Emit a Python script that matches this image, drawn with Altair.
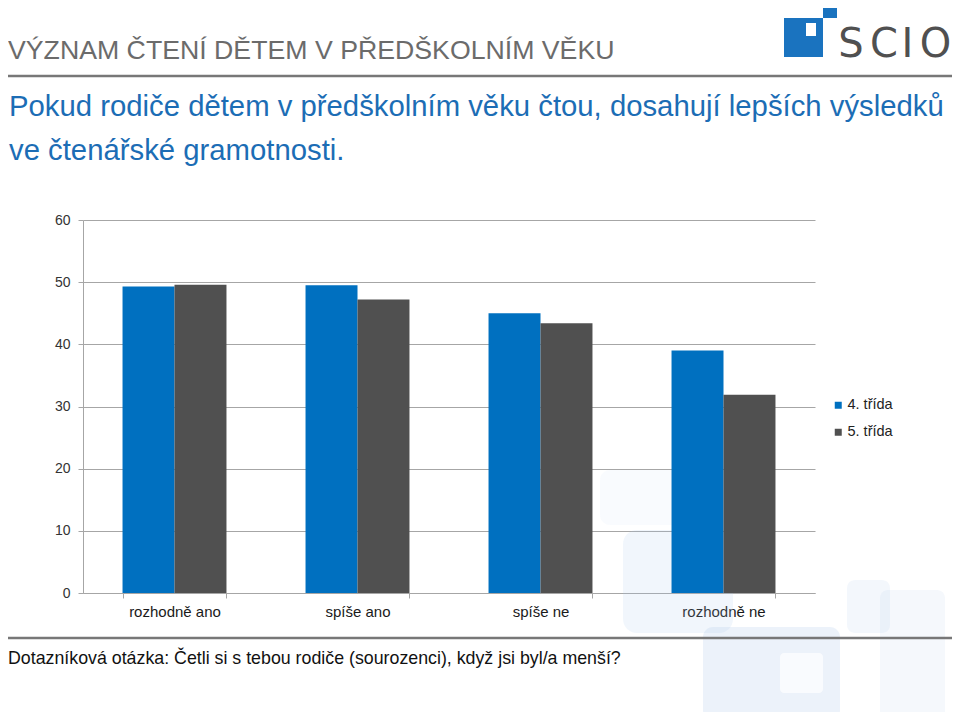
import altair as alt
import pandas as pd

categories = ["rozhodně ano", "spíše ano", "spíše ne", "rozhodně ne"]
series = ["4. třída", "5. třída"]
values_4 = [49.3, 49.5, 45.0, 39.0]
values_5 = [49.6, 47.2, 43.4, 31.9]
y_ticks = [0, 10, 20, 30, 40, 50, 60]

title_text = "VÝZNAM ČTENÍ DĚTEM V PŘEDŠKOLNÍM VĚKU"
subtitle_1 = "Pokud rodiče dětem v předškolním věku čtou, dosahují lepších výsledků"
subtitle_2 = "ve čtenářské gramotnosti."
footer_text = "Dotazníková otázka: Četli si s tebou rodiče (sourozenci), když jsi byl/a menší?"

rows = []
for i, c in enumerate(categories):
    rows.append({"kategorie": c, "třída": series[0], "hodnota": values_4[i]})
    rows.append({"kategorie": c, "třída": series[1], "hodnota": values_5[i]})
df = pd.DataFrame(rows)

BLUE = "#0070C0"
GRAY = "#505050"
LINE = "#a6a6a6"
FONT = "Liberation Sans"

# plot area is 732 x 373, origin at page (83, 220)
W, H = 732, 373
OX, OY = 83, 220


def one():
    return alt.Data(values=[{"a": 1}])


def rect(x1, y1, x2, y2, color, opacity=1.0, radius=0):
    return alt.Chart(one()).mark_rect(
        color=color, opacity=opacity, cornerRadius=radius
    ).encode(
        x=alt.value(x1 - OX), x2=alt.value(x2 - OX),
        y=alt.value(y1 - OY), y2=alt.value(y2 - OY),
    )


def text(t, x, y, size, color, align="left", weight="normal", font=FONT):
    return alt.Chart(one()).mark_text(
        text=t, align=align, baseline="alphabetic", fontSize=size,
        color=color, font=font, fontWeight=weight,
    ).encode(x=alt.value(x - OX), y=alt.value(y - OY))


def hline(x1, x2, y, color, width):
    return alt.Chart(one()).mark_rule(color=color, strokeWidth=width).encode(
        x=alt.value(x1 - OX), x2=alt.value(x2 - OX), y=alt.value(y - OY)
    )


# faint watermark shapes
wm = "#a9c6ea"
watermark = [
    rect(623, 530, 733, 633, wm, 0.16, 14),
    rect(703, 627, 840, 720, wm, 0.22, 10),
    rect(780, 653, 823, 693, "#ffffff", 0.7, 4),
    rect(847, 580, 890, 633, wm, 0.14, 8),
    rect(880, 590, 945, 720, wm, 0.12, 8),
    rect(600, 470, 720, 525, wm, 0.07, 10),
]

bars = alt.Chart(df).mark_bar().encode(
    x=alt.X(
        "kategorie:N", sort=categories, title=None,
        scale=alt.Scale(paddingInner=0.432, paddingOuter=0.216),
        axis=alt.Axis(
            labelAngle=0, labelFontSize=15, labelColor="#1a1a1a", labelFont=FONT,
            domainColor=LINE, tickColor=LINE, tickSize=5, tickBand="extent",
            labelPadding=6, grid=False,
        ),
    ),
    xOffset=alt.XOffset("třída:N", sort=series),
    y=alt.Y(
        "hodnota:Q", title=None,
        scale=alt.Scale(domain=[0, 60], nice=False),
        axis=alt.Axis(
            values=y_ticks, labelFontSize=14, labelColor="#333333", labelFont=FONT,
            domainColor=LINE, tickColor=LINE, gridColor=LINE, tickSize=5,
            labelPadding=8, grid=True,
        ),
    ),
    color=alt.Color(
        "třída:N", sort=series,
        scale=alt.Scale(domain=series, range=[BLUE, GRAY]),
        legend=alt.Legend(
            title=None, orient="none", legendX=836 - OX - 5, legendY=178,
            symbolType="square", symbolSize=49, labelFontSize=14.5,
            labelColor="#222222", labelFont=FONT, rowPadding=12, labelOffset=2,
        ),
    ),
)

deco = [
    hline(8, 952, 76, "#777777", 2.5),
    hline(8, 952, 638, "#777777", 2.5),
    text(title_text, 8, 59, 26.7, "#6b6b6b"),
    text(subtitle_1, 9, 116, 29.3, "#1c6db5"),
    text(subtitle_2, 9, 160, 29.3, "#1c6db5"),
    text(footer_text, 8, 664, 17.8, "#111111"),
    # logo
    rect(784, 18, 823, 57, "#1a73bf"),
    rect(806, 23, 816, 36, "#ffffff"),
    rect(823, 5, 837, 18, "#1a73bf"),
]
for letter, lx in [("S", 851), ("C", 884), ("I", 907.5), ("O", 935.5)]:
    deco.append(text(letter, lx, 57, 40, "#505050", align="center", font="DejaVu Sans"))

chart = alt.layer(*watermark, bars, *deco).properties(
    width=W, height=H,
    autosize=alt.AutoSizeParams(type="none"),
    padding={"left": OX - 8, "top": OY - 8, "right": 944 - (OX - 8) - W, "bottom": 704 - (OY - 8) - H},
    background="white",
).configure_view(stroke=None)

chart.save("out.html", embed_options={"renderer": "svg", "actions": False})
